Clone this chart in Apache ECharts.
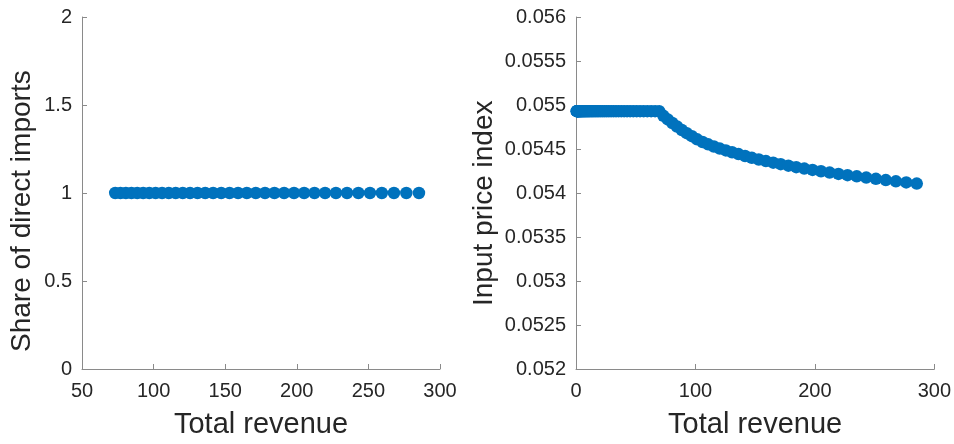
<!DOCTYPE html>
<html>
<head>
<meta charset="utf-8">
<script src="https://cdn.jsdelivr.net/npm/echarts@6/dist/echarts.min.js"></script>
<style>
html,body{margin:0;padding:0;background:#fff;}
#chart{width:954px;height:444px;}
</style>
</head>
<body>
<div id="chart"></div>
<script>
// Left panel: total revenue of firms that import directly, and their share of direct imports
const leftRevenue = [73.20, 76.85, 80.63, 84.53, 88.56, 92.71, 96.99, 101.40, 105.93, 110.61,
  115.42, 120.36, 125.45, 130.67, 136.04, 141.56, 147.22, 153.03, 158.99, 165.10,
  171.37, 177.80, 184.38, 191.13, 198.04, 205.11, 212.35, 219.75, 227.33, 235.08,
  243.00, 251.10, 259.38, 267.84, 276.48, 285.30];
const leftShare = [1, 1, 1, 1, 1, 1, 1, 1, 1, 1,
  1, 1, 1, 1, 1, 1, 1, 1, 1, 1,
  1, 1, 1, 1, 1, 1, 1, 1, 1, 1,
  1, 1, 1, 1, 1, 1];

// Right panel: total revenue of all firms and their input price index
const rightRevenue = [0.56, 0.71, 0.89, 1.09, 1.32, 1.58, 1.88, 2.21, 2.58, 2.99,
  3.43, 3.92, 4.46, 5.04, 5.67, 6.35, 7.08, 7.87, 8.71, 9.61,
  10.57, 11.59, 12.67, 13.83, 15.05, 16.33, 17.70, 19.13, 20.64, 22.23,
  23.89, 25.64, 27.47, 29.39, 31.39, 33.48, 35.66, 37.94, 40.31, 42.78,
  45.34, 48.01, 50.78, 53.65, 56.63, 59.72, 62.92, 66.23, 69.65,
  73.20, 76.85, 80.63, 84.53, 88.56, 92.71, 96.99, 101.40, 105.93, 110.61,
  115.42, 120.36, 125.45, 130.67, 136.04, 141.56, 147.22, 153.03, 158.99, 165.10,
  171.37, 177.80, 184.38, 191.13, 198.04, 205.11, 212.35, 219.75, 227.33, 235.08,
  243.00, 251.10, 259.38, 267.84, 276.48, 285.30];
const rightPriceIndex = [0.05493, 0.05493, 0.05493, 0.05493, 0.05493, 0.05493, 0.05493, 0.05493, 0.05493, 0.05493,
  0.05493, 0.05493, 0.05493, 0.05493, 0.05493, 0.05493, 0.05493, 0.05493, 0.05493, 0.05493,
  0.05493, 0.05493, 0.05493, 0.05493, 0.05493, 0.05493, 0.05493, 0.05493, 0.05493, 0.05493,
  0.05493, 0.05493, 0.05493, 0.05493, 0.05493, 0.05493, 0.05493, 0.05493, 0.05493, 0.05493,
  0.05493, 0.05493, 0.05493, 0.05493, 0.05493, 0.05493, 0.05493, 0.05493, 0.05493,
  0.054877, 0.054836, 0.054795, 0.054756, 0.054716, 0.054680, 0.054646, 0.054610, 0.054580, 0.054553,
  0.054528, 0.054505, 0.054484, 0.054463, 0.054442, 0.054420, 0.054400, 0.054381, 0.054363, 0.054345,
  0.054328, 0.054311, 0.054294, 0.054277, 0.054262, 0.054247, 0.054232, 0.054217, 0.054203, 0.054189,
  0.054175, 0.054161, 0.054147, 0.054133, 0.054120, 0.054107];

const xTitle = 'Total revenue';
const leftYTitle = 'Share of direct imports';
const rightYTitle = 'Input price index';

const FONT = "'Liberation Sans', Helvetica, Arial, sans-serif";
const AXIS = '#8a8a8a';
const TXT = '#262626';
const BLUE = '#0072BD';

function xAxisCfg(idx, min, max, interval) {
  return {
    type: 'value', gridIndex: idx, min: min, max: max, interval: interval,
    axisLine: { show: true, onZero: false, lineStyle: { color: AXIS, width: 1 } },
    axisTick: { show: true, inside: true, length: 5, lineStyle: { color: AXIS } },
    splitLine: { show: false },
    axisLabel: { color: TXT, fontSize: 20, fontFamily: FONT, margin: 12 },
    name: xTitle, nameLocation: 'middle', nameGap: 41,
    nameTextStyle: { color: TXT, fontSize: 29, fontFamily: FONT }
  };
}
function yAxisCfg(idx, min, max, interval) {
  return {
    type: 'value', gridIndex: idx, min: min, max: max, interval: interval,
    axisLine: { show: true, onZero: false, lineStyle: { color: AXIS, width: 1 } },
    axisTick: { show: true, inside: true, length: 5, lineStyle: { color: AXIS } },
    splitLine: { show: false },
    axisLabel: { color: TXT, fontSize: 20, fontFamily: FONT, margin: 10 }
  };
}

const chart = echarts.init(document.getElementById('chart'), null, { renderer: 'canvas' });
chart.setOption({
  backgroundColor: '#ffffff',
  animation: false,
  grid: [
    { left: 82, top: 17, width: 358, height: 358 },
    { left: 576, top: 17, width: 359, height: 358 }
  ],
  xAxis: [xAxisCfg(0, 50, 300, 50), xAxisCfg(1, 0, 300, 100)],
  yAxis: [yAxisCfg(0, 0, 2, 0.5), yAxisCfg(1, 0.052, 0.056, 0.0005)],
  series: [
    {
      type: 'scatter', xAxisIndex: 0, yAxisIndex: 0,
      data: leftRevenue.map((x, i) => [x, leftShare[i]]),
      symbol: 'circle', symbolSize: 12.5,
      itemStyle: { color: BLUE, opacity: 1 }
    },
    {
      type: 'scatter', xAxisIndex: 1, yAxisIndex: 1,
      data: rightRevenue.map((x, i) => [x, rightPriceIndex[i]]),
      symbol: 'circle', symbolSize: 12.5,
      itemStyle: { color: BLUE, opacity: 1 }
    }
  ],
  graphic: [
    {
      type: 'text', x: 22, y: 352, rotation: Math.PI / 2,
      style: { text: leftYTitle, fill: TXT, fontSize: 28, fontFamily: FONT, align: 'left', verticalAlign: 'middle' }
    },
    {
      type: 'text', x: 484, y: 306, rotation: Math.PI / 2,
      style: { text: rightYTitle, fill: TXT, fontSize: 28, fontFamily: FONT, align: 'left', verticalAlign: 'middle' }
    }
  ]
});
</script>
</body>
</html>
